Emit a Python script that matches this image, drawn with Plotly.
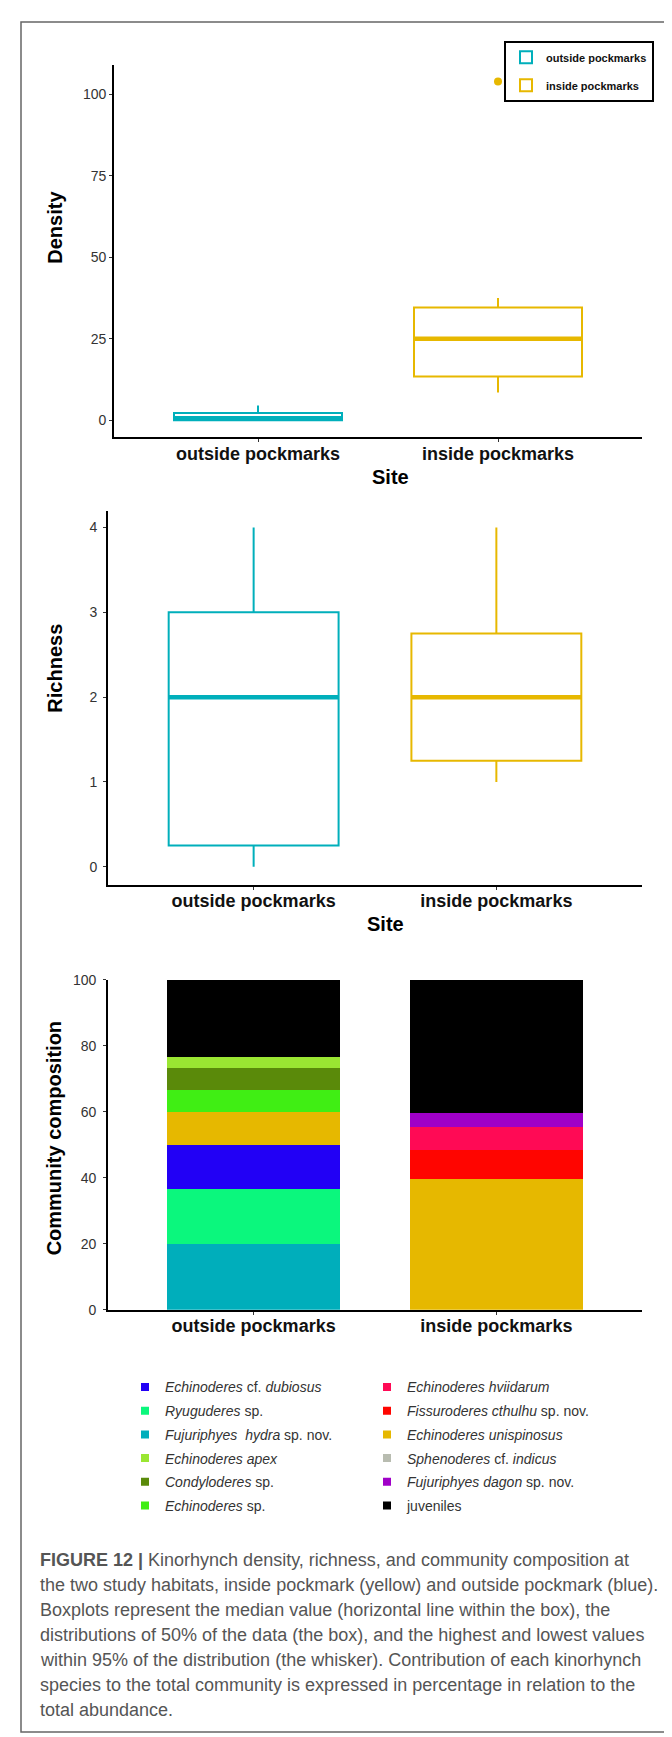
import plotly.graph_objects as go

W, H = 672, 1737
def xp(px): return px / W
def yp(py): return 1 - py / H

FONT = "Liberation Sans, Arial, sans-serif"

# ---------------- data ----------------
sites = ["outside pockmarks", "inside pockmarks"]
site_pos = [1, 2]
site_colors = ["#00AFBB", "#E7B800"]

# Density boxplot statistics (per site)
dens_lower = [0.0, 8.5]
dens_q1 = [0.0, 13.4]
dens_median = [0.6, 25.0]
dens_q3 = [2.2, 34.6]
dens_upper = [4.5, 37.5]
dens_outliers = [[], [104.0]]

# Richness boxplot statistics (per site)
rich_lower = [0.0, 1.0]
rich_q1 = [0.25, 1.25]
rich_median = [2.0, 2.0]
rich_q3 = [3.0, 2.75]
rich_upper = [4.0, 4.0]

# Community composition (% of total abundance), stacking order bottom -> top
species = [
    "<i>Fujuriphyes</i>  <i>hydra</i> sp. nov.",
    "<i>Ryuguderes</i> sp.",
    "<i>Echinoderes</i> cf. <i>dubiosus</i>",
    "<i>Echinoderes unispinosus</i>",
    "<i>Fissuroderes cthulhu</i> sp. nov.",
    "<i>Echinoderes hviidarum</i>",
    "<i>Sphenoderes</i> cf. <i>indicus</i>",
    "<i>Echinoderes</i> sp.",
    "<i>Condyloderes</i> sp.",
    "<i>Echinoderes apex</i>",
    "<i>Fujuriphyes dagon</i> sp. nov.",
    "juveniles",
]
outside_pct = [20.0, 16.7, 13.3, 10.0, 0.0, 0.0, 0.0, 6.7, 6.7, 3.3, 0.0, 23.3]
inside_pct = [0.0, 0.0, 0.0, 39.5, 8.9, 6.9, 0.0, 0.0, 0.0, 0.0, 4.2, 40.5]

species_colors = ["#00AEBB", "#0BF77D", "#2200F5", "#E6B800", "#FF0500", "#FF0A55",
                  "#B8BCB0", "#40EE14", "#5A8A0A", "#9AE632", "#A000C8", "#000000"]
# legend column (legend2 = left, legend3 = right) and rank inside column
species_legend = ["legend2", "legend2", "legend2", "legend3", "legend3", "legend3",
                  "legend3", "legend2", "legend2", "legend2", "legend3", "legend3"]
species_rank = [3, 2, 1, 3, 2, 1, 4, 6, 5, 4, 5, 6]

caption_lines = [
    "<b>FIGURE 12 |</b> Kinorhynch density, richness, and community composition at",
    "the two study habitats, inside pockmark (yellow) and outside pockmark (blue).",
    "Boxplots represent the median value (horizontal line within the box), the",
    "distributions of 50% of the data (the box), and the highest and lowest values",
    "within 95% of the distribution (the whisker). Contribution of each kinorhynch",
    "species to the total community is expressed in percentage in relation to the",
    "total abundance.",
]

# ---------------- figure ----------------
fig = go.Figure()
BOXW = 0.7

# Panel 1: density
for i in range(2):
    fig.add_trace(go.Box(
        x=[site_pos[i]], q1=[dens_q1[i]], median=[dens_median[i]], q3=[dens_q3[i]],
        lowerfence=[dens_lower[i]], upperfence=[dens_upper[i]],
        name=sites[i], width=BOXW, whiskerwidth=0, boxpoints=False,
        line=dict(color=site_colors[i], width=2), fillcolor="white",
        xaxis="x", yaxis="y", legend="legend", legendgroup=sites[i]))
    fig.add_trace(go.Scatter(
        x=[site_pos[i] - BOXW / 2, site_pos[i] + BOXW / 2], y=[dens_median[i]] * 2,
        mode="lines", line=dict(color=site_colors[i], width=4.5),
        showlegend=False, hoverinfo="skip", xaxis="x", yaxis="y"))
    if dens_outliers[i]:
        fig.add_trace(go.Scatter(
            x=[site_pos[i]] * len(dens_outliers[i]), y=dens_outliers[i], mode="markers",
            marker=dict(color=site_colors[i], size=8), showlegend=False,
            xaxis="x", yaxis="y"))

# Panel 2: richness
for i in range(2):
    fig.add_trace(go.Box(
        x=[site_pos[i]], q1=[rich_q1[i]], median=[rich_median[i]], q3=[rich_q3[i]],
        lowerfence=[rich_lower[i]], upperfence=[rich_upper[i]],
        name=sites[i], width=BOXW, whiskerwidth=0, boxpoints=False,
        line=dict(color=site_colors[i], width=2), fillcolor="white",
        showlegend=False, xaxis="x2", yaxis="y2"))
    fig.add_trace(go.Scatter(
        x=[site_pos[i] - BOXW / 2, site_pos[i] + BOXW / 2], y=[rich_median[i]] * 2,
        mode="lines", line=dict(color=site_colors[i], width=4.5),
        showlegend=False, hoverinfo="skip", xaxis="x2", yaxis="y2"))

# Panel 3: community composition (stacked bars) + small-square legend entries
for k in range(len(species)):
    fig.add_trace(go.Bar(
        x=site_pos, y=[outside_pct[k], inside_pct[k]], name=species[k],
        marker=dict(color=species_colors[k], line=dict(width=0)),
        width=0.71, xaxis="x3", yaxis="y3", showlegend=False))
    fig.add_trace(go.Scatter(
        x=[None], y=[None], mode="markers", name=species[k],
        marker=dict(color=species_colors[k], symbol="square", size=8),
        xaxis="x3", yaxis="y3", hoverinfo="skip",
        legend=species_legend[k], legendrank=species_rank[k], legendgroup=species[k]))

axis_common = dict(showline=True, linecolor="black", linewidth=1.8, ticks="outside",
                   ticklen=3, tickwidth=1, tickcolor="#333", showgrid=False,
                   zeroline=False, fixedrange=True)
xcommon = dict(axis_common, range=[0.4, 2.6], tickvals=site_pos, ticktext=sites,
               ticklabelstandoff=-4,
               tickfont=dict(family=FONT, size=18, color="#111", weight="bold"))
ycommon = dict(axis_common, tickfont=dict(family=FONT, size=14, color="#333"))

fig.update_layout(
    width=W, height=H, margin=dict(l=0, r=0, t=0, b=0),
    paper_bgcolor="white", plot_bgcolor="white", barmode="stack",
    font=dict(family=FONT), showlegend=True,
    xaxis=dict(xcommon, domain=[xp(106), xp(634)], anchor="y"),
    yaxis=dict(ycommon, domain=[yp(425), yp(49)], anchor="x", range=[-5.2, 109.2],
               tickvals=[0, 25, 50, 75, 100]),
    xaxis2=dict(xcommon, domain=[xp(100), xp(634)], anchor="y2"),
    yaxis2=dict(ycommon, domain=[yp(876.7), yp(500)], anchor="x2", range=[-0.21, 4.19],
                tickvals=[0, 1, 2, 3, 4], ticklabelstandoff=3),
    xaxis3=dict(xcommon, domain=[xp(100), xp(634)], anchor="y3"),
    yaxis3=dict(ycommon, domain=[yp(1305.7), yp(972.7)], anchor="x3", range=[0, 100],
                tickvals=[0, 20, 40, 60, 80, 100], ticklabelstandoff=4),
    legend=dict(x=xp(496), y=yp(25), xanchor="left", yanchor="top",
                bordercolor="black", borderwidth=2, bgcolor="white",
                font=dict(family=FONT, size=11, color="#111", weight="bold"),
                tracegroupgap=9),
    legend2=dict(x=xp(117), y=yp(1368), xanchor="left", yanchor="top",
                 bgcolor="rgba(0,0,0,0)", font=dict(family=FONT, size=14, color="#333"),
                 tracegroupgap=2.5),
    legend3=dict(x=xp(359), y=yp(1368), xanchor="left", yanchor="top",
                 bgcolor="rgba(0,0,0,0)", font=dict(family=FONT, size=14, color="#333"),
                 tracegroupgap=2.5),
)

ann = []
ytitle_font = dict(family=FONT, size=20, color="black", weight="bold")
def title(text, x, y, angle=0):
    ann.append(dict(text=text, x=xp(x), y=yp(y), xref="paper", yref="paper",
                    xanchor="center", yanchor="middle", textangle=angle,
                    showarrow=False, font=ytitle_font))
title("Density", 46.7, 213, -90)
title("Richness", 46.7, 658, -90)
title("Community composition", 45.8, 1133, -90)
title("Site", 382, 465)
title("Site", 377, 916.7)
cap_y = [1558.3, 1583.3, 1608.5, 1634, 1659.3, 1684.3, 1709.3]
for line, cy in zip(caption_lines, cap_y):
    ann.append(dict(text=line, x=xp(30), y=yp(cy), xref="paper", yref="paper",
                    xanchor="left", yanchor="middle", showarrow=False,
                    font=dict(family=FONT, size=18, color="#555")))
fig.update_layout(annotations=ann)

fig.add_shape(type="rect", xref="paper", yref="paper", x0=xp(13), x1=xp(670),
              y0=yp(1732), y1=yp(6), line=dict(color="#666", width=1.5),
              fillcolor="rgba(0,0,0,0)", layer="above")

fig.write_html("out.html")
